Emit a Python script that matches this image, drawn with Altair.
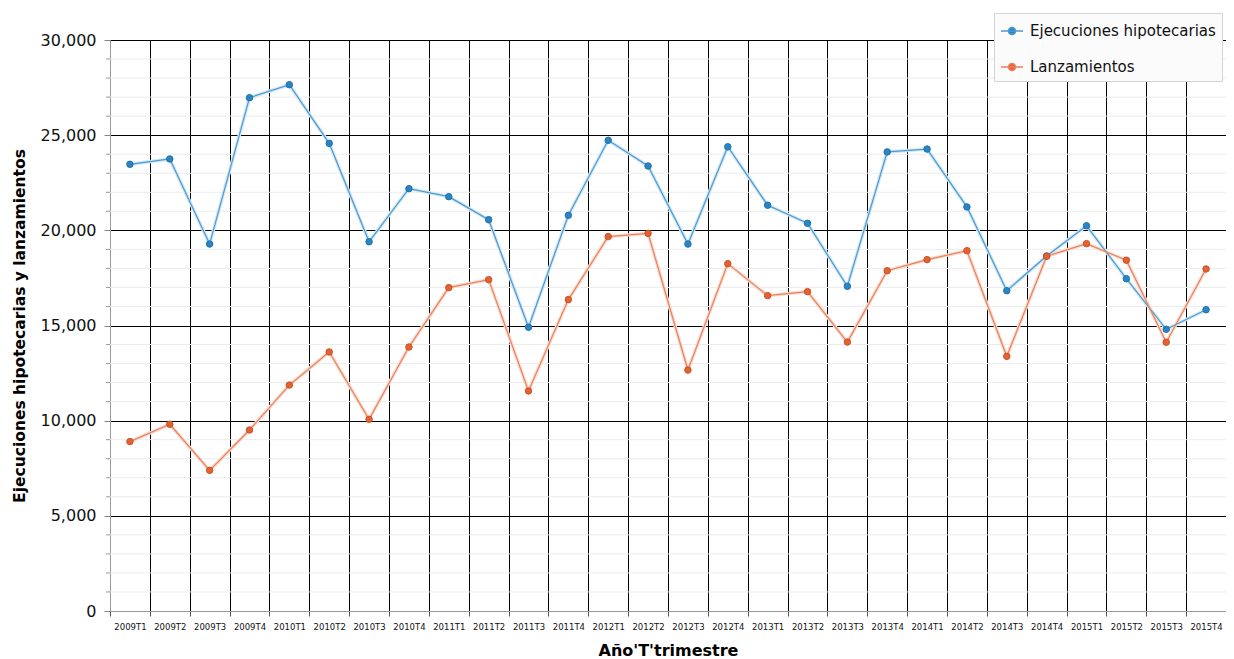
import altair as alt
import pandas as pd

quarters = ["2009T1", "2009T2", "2009T3", "2009T4",
            "2010T1", "2010T2", "2010T3", "2010T4",
            "2011T1", "2011T2", "2011T3", "2011T4",
            "2012T1", "2012T2", "2012T3", "2012T4",
            "2013T1", "2013T2", "2013T3", "2013T4",
            "2014T1", "2014T2", "2014T3", "2014T4",
            "2015T1", "2015T2", "2015T3", "2015T4"]

ejecuciones = [23470, 23750, 19280, 26970, 27650, 24570, 19400, 22190,
               21770, 20560, 14910, 20790, 24730, 23380, 19280, 24390,
               21320, 20370, 17060, 24120, 24270, 21230, 16830, 18650,
               20240, 17460, 14800, 15830]

lanzamientos = [8900, 9810, 7390, 9510, 11870, 13610, 10070, 13870,
                16990, 17410, 11560, 16360, 19670, 19840, 12660, 18250,
                16570, 16780, 14130, 17880, 18460, 18930, 13380, 18640,
                19300, 18430, 14120, 17970]

series_names = ["Ejecuciones hipotecarias", "Lanzamientos"]
y_major = [0, 5000, 10000, 15000, 20000, 25000, 30000]
y_minor = [v for v in range(1000, 30000, 1000) if v % 5000 != 0]

df = pd.DataFrame({
    "trimestre": quarters * 2,
    "serie": [series_names[0]] * len(quarters) + [series_names[1]] * len(quarters),
    "valor": ejecuciones + lanzamientos,
})
minor_df = pd.DataFrame({"valor": y_minor})

FONT = "DejaVu Sans"
line_colors = ["#4a9bd1", "#e9825d"]
glow_colors = ["#d2e7f5", "#f9dbcf"]
fill_colors = ["#2a85c5", "#e4622f"]
edge_colors = ["#2270ad", "#c9522a"]

y_scale = alt.Scale(domain=[0, 30000], nice=False)
x_scale = alt.Scale(type="band", paddingInner=0, paddingOuter=0)

x_enc = alt.X(
    "trimestre:N", sort=quarters, scale=x_scale,
    axis=alt.Axis(
        title="Año'T'trimestre", labelAngle=0, tickBand="extent",
        labelFont=FONT, labelFontSize=8.5, labelColor="#111", labelPadding=6,
        tickColor="#555", tickSize=5, domainColor="#999",
        grid=True, gridColor="#000", gridWidth=1,
        titleFont=FONT, titleFontSize=16, titleFontWeight="bold",
        titleColor="#000", titlePadding=12,
    ),
)
y_enc = alt.Y(
    "valor:Q", scale=y_scale,
    axis=alt.Axis(
        title="Ejecuciones hipotecarias y lanzamientos", values=y_major,
        format=",d", labelFont=FONT, labelFontSize=16, labelColor="#111",
        labelPadding=8, tickColor="#888", tickSize=6, domainColor="#999",
        grid=True, gridColor="#000", gridWidth=1,
        titleFont=FONT, titleFontSize=15.5, titleFontWeight="bold",
        titleColor="#000", titlePadding=13,
    ),
)

symbol_path = "M-1,0H1M0,-0.32A0.32,0.32,0,1,1,0,0.32A0.32,0.32,0,1,1,0,-0.32Z"

color_enc = alt.Color(
    "serie:N", scale=alt.Scale(domain=series_names, range=line_colors),
    legend=alt.Legend(
        title=None, orient="none", legendX=884, legendY=-27,
        fillColor="#fbfbfb", strokeColor="#d4d4d4", padding=6, rowPadding=16,
        symbolType=symbol_path, symbolSize=484, symbolStrokeWidth=1.5,
        labelFont=FONT, labelFontSize=15, labelColor="#111", labelOffset=6,
        labelLimit=400,
    ),
)

minor_grid = alt.Chart(minor_df).mark_rule(color="#ececec", strokeWidth=1).encode(
    y=alt.Y("valor:Q", scale=y_scale)
)
minor_ticks = alt.Chart(minor_df).mark_rule(color="#999", strokeWidth=1).encode(
    y=alt.Y("valor:Q", scale=y_scale), x=alt.value(-4), x2=alt.value(0)
)

base = alt.Chart(df)
glow = base.mark_line(strokeWidth=3.5).encode(
    x=x_enc, y=y_enc,
    stroke=alt.Stroke("serie:N", scale=alt.Scale(domain=series_names, range=glow_colors),
                      legend=None),
)
lines = base.mark_line(strokeWidth=1.2).encode(
    x=x_enc, y=y_enc, color=color_enc
)
points = base.mark_point(filled=True, size=42, strokeWidth=1, opacity=1).encode(
    x=x_enc, y=y_enc,
    fill=alt.Fill("serie:N", scale=alt.Scale(domain=series_names, range=fill_colors),
                  legend=None),
    stroke=alt.Stroke("serie:N", scale=alt.Scale(domain=series_names, range=edge_colors),
                      legend=None),
)

chart = alt.layer(minor_grid, minor_ticks, glow, lines, points).resolve_scale(
    stroke="independent"
).properties(
    width=1116, height=571,
    padding={"left": 102, "top": 32, "right": 0, "bottom": 48},
    autosize=alt.AutoSizeParams(type="none"),
).configure_view(stroke="#d0d0d0", strokeWidth=1).configure(background="white")

chart.save("out.html", embed_options={"renderer": "svg", "actions": False})
